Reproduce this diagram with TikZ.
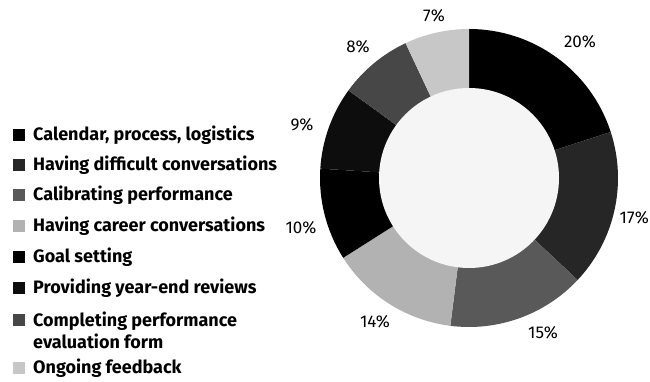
\documentclass[tikz,border=0pt]{standalone}
\usepackage{fontspec}
\setmainfont{Fira Sans}
\usetikzlibrary{positioning}

\colorlet{calendar}{black}
\colorlet{difficult}{black!85}
\colorlet{calibrating}{black!65}
\colorlet{career}{black!30}
\colorlet{goals}{black}
\colorlet{yearend}{black!95}
\colorlet{completing}{black!72}
\colorlet{feedback}{black!22}

\begin{document}
\begin{tikzpicture}[x=1pt,y=1pt,
    sq/.style={minimum size=12pt,inner sep=0pt},
    key/.style={anchor=west,inner sep=0pt,font=\fontsize{18}{22}\selectfont\bfseries},
    pct/.style={inner sep=0pt,font=\fontsize{17}{20}\selectfont}]
        \useasboundingbox (0,0) rectangle (650,382);

        %%%% Ring =========================================
        \coordinate (c) at (469,204);

        % Slices
        \fill[calendar]    (c) -- ++(90:149)     arc[start angle=90,     end angle=18,     radius=149] -- cycle;
        \fill[difficult]   (c) -- ++(18:149)     arc[start angle=18,     end angle=-43.2,  radius=149] -- cycle;
        \fill[calibrating] (c) -- ++(-43.2:149)  arc[start angle=-43.2,  end angle=-97.2,  radius=149] -- cycle;
        \fill[career]      (c) -- ++(-97.2:149)  arc[start angle=-97.2,  end angle=-147.6, radius=149] -- cycle;
        \fill[goals]       (c) -- ++(-147.6:149) arc[start angle=-147.6, end angle=-183.6, radius=149] -- cycle;
        \fill[yearend]     (c) -- ++(-183.6:149) arc[start angle=-183.6, end angle=-216,   radius=149] -- cycle;
        \fill[completing]  (c) -- ++(-216:149)   arc[start angle=-216,   end angle=-244.8, radius=149] -- cycle;
        \fill[feedback]    (c) -- ++(-244.8:149) arc[start angle=-244.8, end angle=-270,   radius=149] -- cycle;

        % Hole
        \fill[black!4] (c) circle[radius=90];

        % Percentages
        \node[pct] (p20) at (580,340) {20\%};
        \node[pct,anchor=east] (p17) at (649,164) {17\%};
        \node[pct] (p15) at (543,49)  {15\%};
        \node[pct] (p14) at (375,60)  {14\%};
        \node[pct] (p10) at (301,154) {10\%};
        \node[pct] (p9)  at (302,257) {9\%};
        \node[pct] (p8)  at (358,335) {8\%};
        \node[pct] (p7)  at (434,366) {7\%};

        %%%% Legend =======================================
        % Squares
        \node[sq,fill=calendar]    (s1) at (18.5,247) {};
        \node[sq,fill=difficult]   (s2) at (18.5,217) {};
        \node[sq,fill=calibrating] (s3) at (18.5,187) {};
        \node[sq,fill=career]      (s4) at (18.5,156) {};
        \node[sq,fill=goals]       (s5) at (18.5,125) {};
        \node[sq,fill=yearend]     (s6) at (18.5,94)  {};
        \node[sq,fill=completing]  (s7) at (18.5,62)  {};
        \node[sq,fill=feedback]    (s8) at (18.5,14)  {};

        % Texts
        \node[key] (k1) at (33,247) {Calendar, process, logistics};
        \node[key] (k2) at (33,217) {Having difficult conversations};
        \node[key] (k3) at (33,187) {Calibrating performance};
        \node[key] (k4) at (33,156) {Having career conversations};
        \node[key] (k5) at (33,125) {Goal setting};
        \node[key] (k6) at (33,94)  {Providing year-end reviews};
        \node[key,anchor=north west,align=left] (k7) at (33,70.5) {Completing performance\\evaluation form};
        \node[key] (k8) at (33,14)  {Ongoing feedback};
    \end{tikzpicture}
\end{document}
